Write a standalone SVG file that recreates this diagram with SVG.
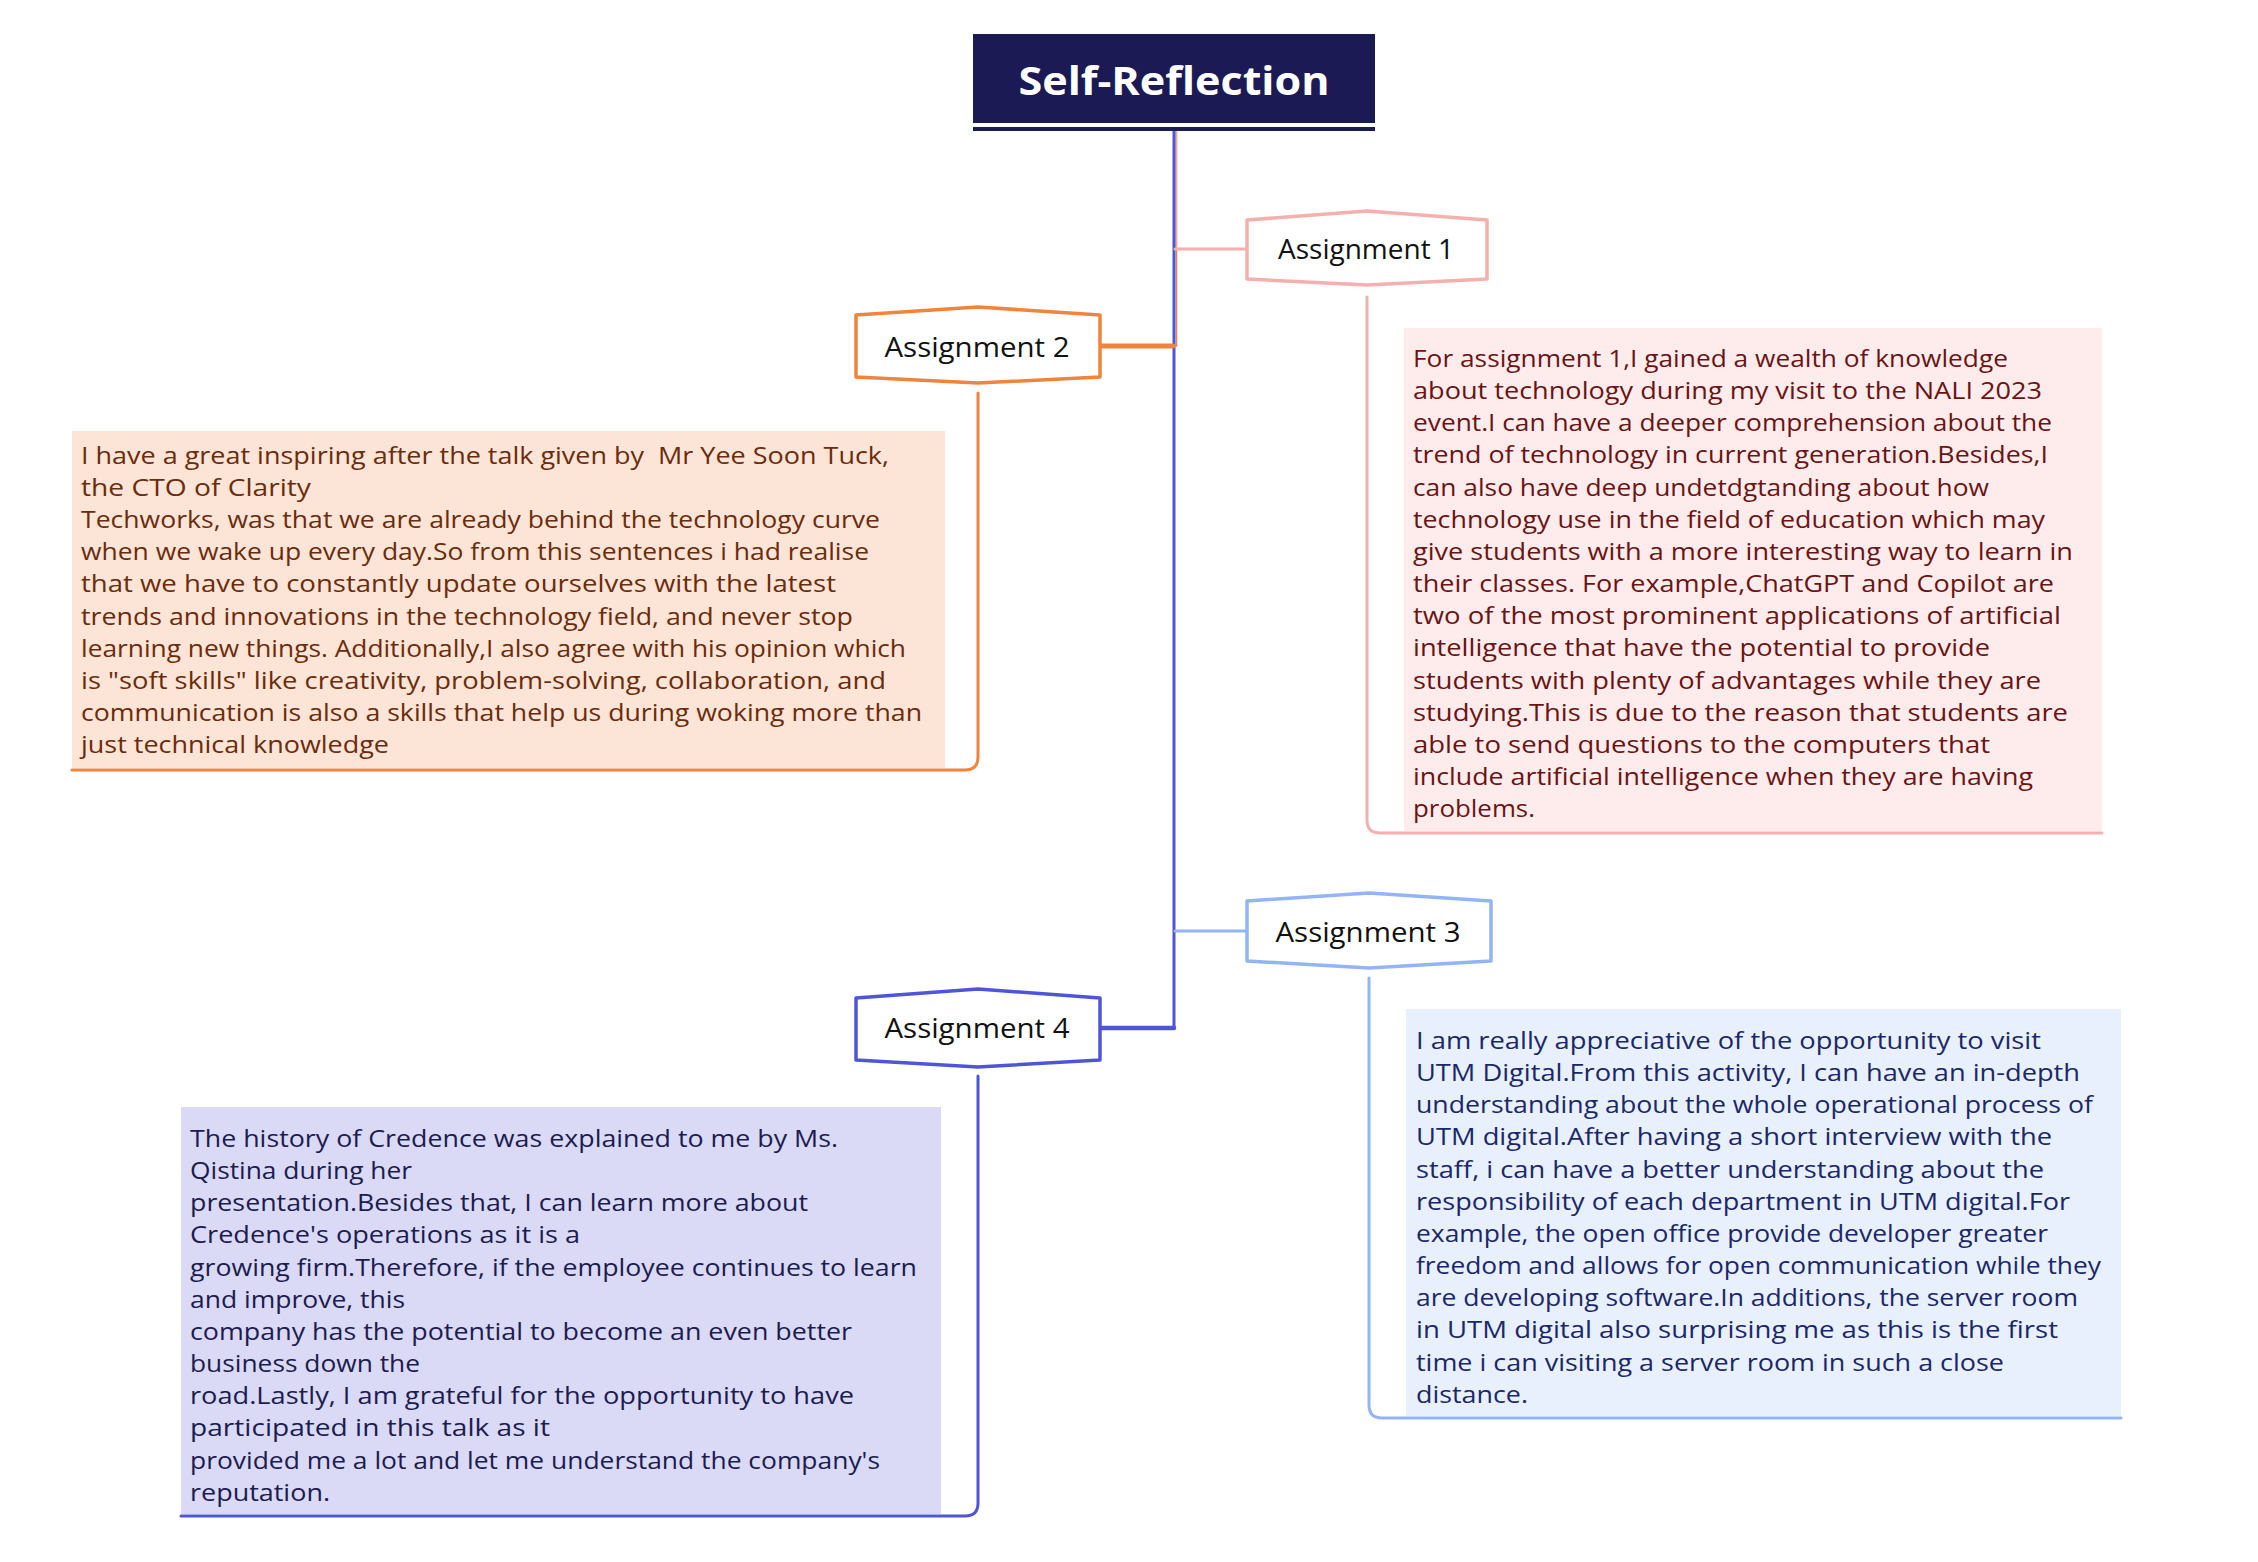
<svg xmlns="http://www.w3.org/2000/svg" width="2258" height="1562" viewBox="0 0 2258 1562">
<style>
.body{font-family:"Open Sans","Noto Sans","Liberation Sans",sans-serif;font-size:24px;}
.t1{fill:#6b1414;}
.t2{fill:#6b2c0c;}
.t3{fill:#1b2868;}
.t4{fill:#1c1c50;}
.node{fill:#ffffff;stroke-width:3.5;stroke-linejoin:round;}
.lbl{font-family:"Open Sans","Noto Sans","Liberation Sans",sans-serif;font-size:27px;fill:#111111;text-anchor:middle;}
.conn{fill:none;stroke-linecap:round;stroke-linejoin:round;}
</style>
<rect x="0" y="0" width="2258" height="1562" fill="#ffffff"/>

<g id="connectors">
  <line class="conn" x1="1176.5" y1="131" x2="1176.5" y2="346" stroke="#f0843c" stroke-width="1.5"/>
  <line class="conn" x1="1176" y1="131" x2="1176" y2="249" stroke="#f4b0ae" stroke-width="1.5"/>
  <path class="conn" d="M1174,131 L1174,1028 L1100,1028" stroke="#4f56d6" stroke-width="3"/>
  <path class="conn" d="M1174,1028 L1100,1028" stroke="#4f56d6" stroke-width="4.5"/>
  <line class="conn" x1="1175" y1="249" x2="1247" y2="249" stroke="#f4b0ae" stroke-width="3"/>
  <line class="conn" x1="1100" y1="346" x2="1173" y2="346" stroke="#f0843c" stroke-width="5"/>
  <line class="conn" x1="1175" y1="931" x2="1247" y2="931" stroke="#93b4f5" stroke-width="3"/>
  <path class="conn" d="M1367,297 L1367,820 Q1367,833 1380,833 L2102,833" stroke="#f4b0ae" stroke-width="3"/>
  <path class="conn" d="M978,393 L978,757 Q978,770 965,770 L72,770" stroke="#f0843c" stroke-width="3"/>
  <path class="conn" d="M1369,978 L1369,1405 Q1369,1418 1382,1418 L2121,1418" stroke="#93b4f5" stroke-width="3"/>
  <path class="conn" d="M978,1076 L978,1503 Q978,1516 965,1516 L181,1516" stroke="#4f56d6" stroke-width="3"/>
</g>

<g id="root">
  <rect x="973" y="34" width="402" height="89" fill="#1b1a55"/>
  <rect x="973" y="127" width="402" height="4" fill="#1b1a55"/>
  <text x="1174" y="95" text-anchor="middle" textLength="311" lengthAdjust="spacingAndGlyphs" font-family="'Open Sans','Noto Sans','Liberation Sans',sans-serif" font-size="40" font-weight="bold" fill="#ffffff">Self-Reflection</text>
</g>

<g id="node-a1">
  <path class="node" stroke="#f4b0ae" d="M1247,220 L1367,211 L1487,220 L1487,279 L1367,285 L1247,279 Z"/>
  <text class="lbl" x="1366" y="259" textLength="176" lengthAdjust="spacingAndGlyphs">Assignment 1</text>
</g>

<g id="node-a2">
  <path class="node" stroke="#f0843c" d="M856,315 L978,307 L1100,315 L1100,377 L978,383 L856,377 Z"/>
  <text class="lbl" x="977" y="357" textLength="185" lengthAdjust="spacingAndGlyphs">Assignment 2</text>
</g>

<g id="node-a3">
  <path class="node" stroke="#93b4f5" d="M1247,901 L1369,893 L1491,901 L1491,961 L1369,968 L1247,961 Z"/>
  <text class="lbl" x="1368" y="942" textLength="185" lengthAdjust="spacingAndGlyphs">Assignment 3</text>
</g>

<g id="node-a4">
  <path class="node" stroke="#4f56d6" d="M856,998 L978,989 L1100,998 L1100,1060 L978,1067 L856,1060 Z"/>
  <text class="lbl" x="977" y="1038" textLength="185" lengthAdjust="spacingAndGlyphs">Assignment 4</text>
</g>

<g id="note-a1">
  <rect x="1404" y="328" width="698" height="503" fill="#fdeceb"/>
  <g class="body t1">
    <text x="1413" y="367" textLength="595" lengthAdjust="spacingAndGlyphs">For assignment 1,I gained a wealth of knowledge</text>
    <text x="1413" y="399" textLength="629" lengthAdjust="spacingAndGlyphs">about technology during my visit to the NALI 2023</text>
    <text x="1413" y="431" textLength="639" lengthAdjust="spacingAndGlyphs">event.I can have a deeper comprehension about the</text>
    <text x="1413" y="463" textLength="635" lengthAdjust="spacingAndGlyphs">trend of technology in current generation.Besides,I</text>
    <text x="1413" y="496" textLength="576" lengthAdjust="spacingAndGlyphs">can also have deep undetdgtanding about how</text>
    <text x="1413" y="528" textLength="632" lengthAdjust="spacingAndGlyphs">technology use in the field of education which may</text>
    <text x="1413" y="560" textLength="660" lengthAdjust="spacingAndGlyphs">give students with a more interesting way to learn in</text>
    <text x="1413" y="592" textLength="641" lengthAdjust="spacingAndGlyphs">their classes. For example,ChatGPT and Copilot are</text>
    <text x="1413" y="624" textLength="648" lengthAdjust="spacingAndGlyphs">two of the most prominent applications of artificial</text>
    <text x="1413" y="656" textLength="577" lengthAdjust="spacingAndGlyphs">intelligence that have the potential to provide</text>
    <text x="1413" y="689" textLength="628" lengthAdjust="spacingAndGlyphs">students with plenty of advantages while they are</text>
    <text x="1413" y="721" textLength="655" lengthAdjust="spacingAndGlyphs">studying.This is due to the reason that students are</text>
    <text x="1413" y="753" textLength="577" lengthAdjust="spacingAndGlyphs">able to send questions to the computers that</text>
    <text x="1413" y="785" textLength="620" lengthAdjust="spacingAndGlyphs">include artificial intelligence when they are having</text>
    <text x="1413" y="817" textLength="122" lengthAdjust="spacingAndGlyphs">problems.</text>
  </g>
</g>

<g id="note-a2">
  <rect x="72" y="431" width="873" height="337" fill="#fce5d7"/>
  <g class="body t2">
    <text x="81" y="464" textLength="808" lengthAdjust="spacingAndGlyphs">I have a great inspiring after the talk given by&#160; Mr Yee Soon Tuck,</text>
    <text x="81" y="496" textLength="230" lengthAdjust="spacingAndGlyphs">the CTO of Clarity</text>
    <text x="81" y="528" textLength="799" lengthAdjust="spacingAndGlyphs">Techworks, was that we are already behind the technology curve</text>
    <text x="81" y="560" textLength="788" lengthAdjust="spacingAndGlyphs">when we wake up every day.So from this sentences i had realise</text>
    <text x="81" y="592" textLength="755" lengthAdjust="spacingAndGlyphs">that we have to constantly update ourselves with the latest</text>
    <text x="81" y="625" textLength="772" lengthAdjust="spacingAndGlyphs">trends and innovations in the technology field, and never stop</text>
    <text x="81" y="657" textLength="825" lengthAdjust="spacingAndGlyphs">learning new things. Additionally,I also agree with his opinion which</text>
    <text x="81" y="689" textLength="805" lengthAdjust="spacingAndGlyphs">is "soft skills" like creativity, problem-solving, collaboration, and</text>
    <text x="81" y="721" textLength="841" lengthAdjust="spacingAndGlyphs">communication is also a skills that help us during woking more than</text>
    <text x="81" y="753" textLength="308" lengthAdjust="spacingAndGlyphs">just technical knowledge</text>
  </g>
</g>

<g id="note-a3">
  <rect x="1406" y="1009" width="715" height="407" fill="#e8f0fd"/>
  <g class="body t3">
    <text x="1416" y="1049" textLength="625" lengthAdjust="spacingAndGlyphs">I am really appreciative of the opportunity to visit</text>
    <text x="1416" y="1081" textLength="664" lengthAdjust="spacingAndGlyphs">UTM Digital.From this activity, I can have an in-depth</text>
    <text x="1416" y="1113" textLength="677" lengthAdjust="spacingAndGlyphs">understanding about the whole operational process of</text>
    <text x="1416" y="1145" textLength="636" lengthAdjust="spacingAndGlyphs">UTM digital.After having a short interview with the</text>
    <text x="1416" y="1178" textLength="628" lengthAdjust="spacingAndGlyphs">staff, i can have a better understanding about the</text>
    <text x="1416" y="1210" textLength="654" lengthAdjust="spacingAndGlyphs">responsibility of each department in UTM digital.For</text>
    <text x="1416" y="1242" textLength="632" lengthAdjust="spacingAndGlyphs">example, the open office provide developer greater</text>
    <text x="1416" y="1274" textLength="685" lengthAdjust="spacingAndGlyphs">freedom and allows for open communication while they</text>
    <text x="1416" y="1306" textLength="662" lengthAdjust="spacingAndGlyphs">are developing software.In additions, the server room</text>
    <text x="1416" y="1338" textLength="642" lengthAdjust="spacingAndGlyphs">in UTM digital also surprising me as this is the first</text>
    <text x="1416" y="1371" textLength="588" lengthAdjust="spacingAndGlyphs">time i can visiting a server room in such a close</text>
    <text x="1416" y="1403" textLength="112" lengthAdjust="spacingAndGlyphs">distance.</text>
  </g>
</g>

<g id="note-a4">
  <rect x="181" y="1107" width="760" height="407" fill="#dadaf6"/>
  <g class="body t4">
    <text x="190" y="1147" textLength="648" lengthAdjust="spacingAndGlyphs">The history of Credence was explained to me by Ms.</text>
    <text x="190" y="1179" textLength="222" lengthAdjust="spacingAndGlyphs">Qistina during her</text>
    <text x="190" y="1211" textLength="618" lengthAdjust="spacingAndGlyphs">presentation.Besides that, I can learn more about</text>
    <text x="190" y="1243" textLength="390" lengthAdjust="spacingAndGlyphs">Credence's operations as it is a</text>
    <text x="190" y="1276" textLength="727" lengthAdjust="spacingAndGlyphs">growing firm.Therefore, if the employee continues to learn</text>
    <text x="190" y="1308" textLength="215" lengthAdjust="spacingAndGlyphs">and improve, this</text>
    <text x="190" y="1340" textLength="662" lengthAdjust="spacingAndGlyphs">company has the potential to become an even better</text>
    <text x="190" y="1372" textLength="230" lengthAdjust="spacingAndGlyphs">business down the</text>
    <text x="190" y="1404" textLength="664" lengthAdjust="spacingAndGlyphs">road.Lastly, I am grateful for the opportunity to have</text>
    <text x="190" y="1436" textLength="360" lengthAdjust="spacingAndGlyphs">participated in this talk as it</text>
    <text x="190" y="1469" textLength="690" lengthAdjust="spacingAndGlyphs">provided me a lot and let me understand the company's</text>
    <text x="190" y="1501" textLength="140" lengthAdjust="spacingAndGlyphs">reputation.</text>
  </g>
</g>
</svg>
